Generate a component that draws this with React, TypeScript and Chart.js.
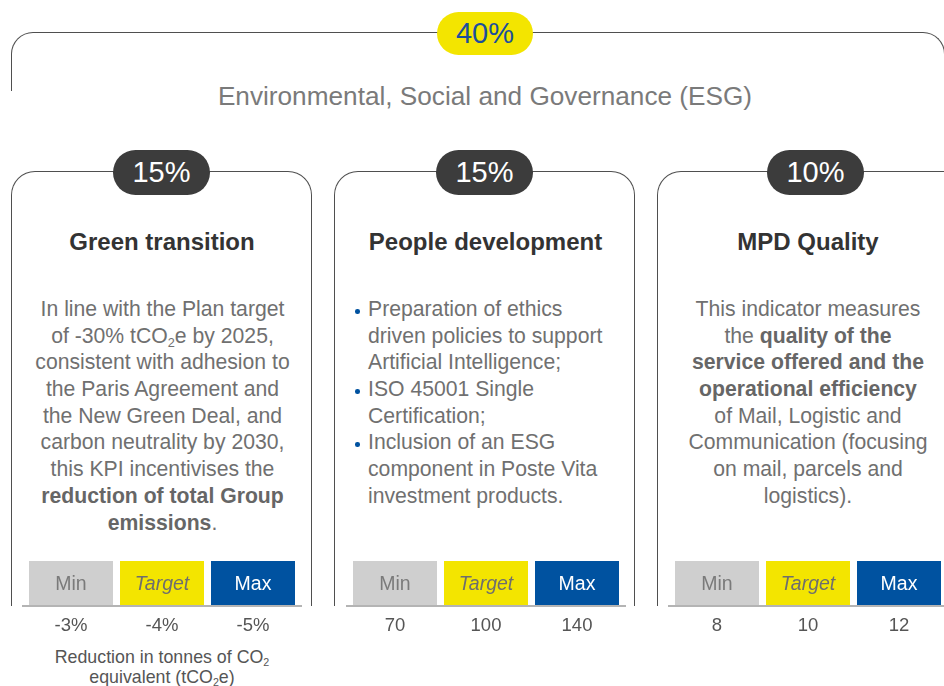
import React, { useEffect, useRef } from "react";
import { Chart, registerables } from "chart.js";

Chart.register(...registerables);

const FONT = '"Liberation Sans", Arial, Helvetica, sans-serif';

// ---- data ----
const GROUP_WEIGHT = "40%";
const GROUP_TITLE = "Environmental, Social and Governance (ESG)";
const KPI_WEIGHTS = ["15%", "15%", "10%"];
const KPI_TITLES = ["Green transition", "People development", "MPD Quality"];
const LEVEL_LABELS = ["Min", "Target", "Max"];
const LEVEL_HEIGHTS = [1, 1, 1];
const GREEN_VALUES = ["-3%", "-4%", "-5%"];
const PEOPLE_VALUES = ["70", "100", "140"];
const MPD_VALUES = ["8", "10", "12"];

const GREEN_TEXT = [
  "In line with the Plan target",
  "of -30% tCO~2~e by 2025,",
  "consistent with adhesion to",
  "the Paris Agreement and",
  "the New Green Deal, and",
  "carbon neutrality by 2030,",
  "this KPI incentivises the",
  "**reduction of total Group**",
  "**emissions**.",
];
const PEOPLE_BULLETS = [
  ["Preparation of ethics", "driven policies to support", "Artificial Intelligence;"],
  ["ISO 45001 Single", "Certification;"],
  ["Inclusion of an ESG", "component in Poste Vita", "investment products."],
];
const MPD_TEXT = [
  "This indicator measures",
  "the **quality of the**",
  "**service offered and the**",
  "**operational efficiency**",
  "of Mail, Logistic and",
  "Communication (focusing",
  "on mail, parcels and",
  "logistics).",
];
const GREEN_NOTE = ["Reduction in tonnes of CO~2~", "equivalent (tCO~2~e)"];

// ---- styles ----
const LEVEL_COLORS = ["#cfcfcf", "#f3e500", "#0052a0"];
const LEVEL_TEXT_COLORS = ["#7a7a7a", "#6e6e6e", "#ffffff"];
const LEVEL_FONT_STYLES = ["normal", "italic", "normal"];
const LINE_COLOR = "#4f4f4f";
const BODY_COLOR = "#707070";

function renderParts(line: string, subShift: string) {
  const parts = line.split(/(\*\*[^*]+\*\*|~[^~]+~)/g).filter((p) => p !== "");
  return parts.map((p, i) => {
    if (p.startsWith("**"))
      return (
        <span key={i} style={{ fontWeight: "bold", color: "#666" }}>
          {p.slice(2, -2)}
        </span>
      );
    if (p.startsWith("~"))
      return (
        <span key={i} style={{ fontSize: "0.6em", verticalAlign: subShift, lineHeight: 0 }}>
          {p.slice(1, -1)}
        </span>
      );
    return <span key={i}>{p}</span>;
  });
}

function renderLine(line: string, key: number) {
  return (
    <div key={key} style={{ height: 26.7, whiteSpace: "nowrap" }}>
      {renderParts(line, "-0.35em")}
    </div>
  );
}

const levelPlugin = {
  id: "levelCells",
  afterDatasetsDraw(chart: any) {
    const { ctx, chartArea } = chart;
    ctx.save();
    ctx.strokeStyle = "#b4b4b4";
    ctx.lineWidth = 2;
    ctx.beginPath();
    ctx.moveTo(0, chartArea.bottom);
    ctx.lineTo(chart.width, chartArea.bottom);
    ctx.stroke();
    const meta = chart.getDatasetMeta(0);
    meta.data.forEach((bar: any, i: number) => {
      const { x, y, base } = bar.getProps(["x", "y", "base"], true);
      ctx.font = `${LEVEL_FONT_STYLES[i]} 19.5px ${FONT}`;
      ctx.fillStyle = LEVEL_TEXT_COLORS[i];
      ctx.textAlign = "center";
      ctx.textBaseline = "middle";
      ctx.fillText(LEVEL_LABELS[i], x, (y + base) / 2 + 1);
    });
    ctx.restore();
  },
};

function LevelChart({ values, left }: { values: string[]; left: number }) {
  const ref = useRef<HTMLCanvasElement>(null);
  useEffect(() => {
    const chart = new Chart(ref.current as HTMLCanvasElement, {
      type: "bar",
      data: {
        labels: values,
        datasets: [
          {
            data: LEVEL_HEIGHTS,
            backgroundColor: LEVEL_COLORS,
            borderWidth: 0,
            barPercentage: 84 / 91,
            categoryPercentage: 1,
          },
        ],
      },
      options: {
        responsive: false,
        animation: false,
        devicePixelRatio: 1,
        layout: { padding: { left: 3.5, right: 3.5, top: 5, bottom: 0 } },
        plugins: { legend: { display: false }, tooltip: { enabled: false } },
        scales: {
          x: {
            grid: { display: false, drawTicks: false },
            border: { display: false },
            ticks: { color: "#555", font: { family: FONT, size: 18.5 }, padding: 9 },
            afterFit: (s: any) => {
              s.height = 30;
            },
          },
          y: { display: false, min: 0, max: 1 },
        },
      },
      plugins: [levelPlugin],
    } as any);
    return () => chart.destroy();
  }, [values]);
  return (
    <canvas
      ref={ref}
      width={280}
      height={80}
      style={{ position: "absolute", left, top: 556, width: 280, height: 80 }}
    />
  );
}

function Pill({ cx, top, w, h, bg, color, text }: any) {
  return (
    <div
      style={{
        position: "absolute",
        left: cx - w / 2,
        top,
        width: w,
        height: h,
        borderRadius: h / 2,
        background: bg,
        color,
        fontSize: 29,
        display: "flex",
        alignItems: "center",
        justifyContent: "center",
        lineHeight: 1,
      }}
    >
      {text}
    </div>
  );
}

function Panel({ left, width }: { left: number; width: number }) {
  return (
    <div
      style={{
        position: "absolute",
        left,
        top: 171.25,
        width,
        height: 606 - 171.25,
        boxSizing: "border-box",
        borderTop: `1.5px solid ${LINE_COLOR}`,
        borderLeft: `1.5px solid ${LINE_COLOR}`,
        borderRight: `1.5px solid ${LINE_COLOR}`,
        borderRadius: "24px 24px 0 0",
      }}
    />
  );
}

function Title({ cx, text }: { cx: number; text: string }) {
  return (
    <div
      style={{
        position: "absolute",
        left: cx - 150,
        width: 300,
        top: 226.5,
        lineHeight: "30px",
        textAlign: "center",
        fontWeight: "bold",
        fontSize: 24,
        color: "#333",
        whiteSpace: "nowrap",
      }}
    >
      {text}
    </div>
  );
}

export default function App() {
  return (
    <div
      style={{
        position: "absolute",
        left: 0,
        top: 0,
        width: 944,
        height: 686,
        overflow: "hidden",
        background: "#fff",
        fontFamily: FONT,
      }}
    >
      {/* group bracket */}
      <div
        style={{
          position: "absolute",
          left: 11.25,
          top: 32.25,
          width: 945 - 11.25,
          height: 91 - 32.25,
          boxSizing: "border-box",
          borderTop: `1.5px solid ${LINE_COLOR}`,
          borderLeft: `1.5px solid ${LINE_COLOR}`,
          borderRight: `1.5px solid ${LINE_COLOR}`,
          borderRadius: "22px 22px 0 0",
        }}
      />
      <Pill cx={485} top={12} w={96} h={43} bg="#f3e500" color="#1b4f9c" text={GROUP_WEIGHT} />
      <div
        style={{
          position: "absolute",
          left: 85,
          width: 800,
          top: 80.5,
          lineHeight: "30px",
          textAlign: "center",
          fontSize: 26.2,
          color: "#7a7a7a",
          whiteSpace: "nowrap",
        }}
      >
        {GROUP_TITLE}
      </div>

      {/* panels */}
      <Panel left={11.25} width={300.5} />
      <Panel left={334.25} width={300.5} />
      <Panel left={657.25} width={310} />
      <Pill cx={161.5} top={150} w={97} h={45} bg="#3c3c3c" color="#fff" text={KPI_WEIGHTS[0]} />
      <Pill cx={484.5} top={150} w={97} h={45} bg="#3c3c3c" color="#fff" text={KPI_WEIGHTS[1]} />
      <Pill cx={815.5} top={150} w={97} h={45} bg="#3c3c3c" color="#fff" text={KPI_WEIGHTS[2]} />
      <Title cx={162} text={KPI_TITLES[0]} />
      <Title cx={485.5} text={KPI_TITLES[1]} />
      <Title cx={808} text={KPI_TITLES[2]} />

      {/* panel 1 body */}
      <div
        style={{
          position: "absolute",
          left: 12.5,
          width: 300,
          top: 296,
          fontSize: 21.2,
          lineHeight: "26.7px",
          textAlign: "center",
          color: BODY_COLOR,
        }}
      >
        {GREEN_TEXT.map((l, i) => renderLine(l, i))}
      </div>

      {/* panel 2 body */}
      <div
        style={{
          position: "absolute",
          left: 368,
          width: 270,
          top: 296,
          fontSize: 21.2,
          lineHeight: "26.7px",
          textAlign: "left",
          color: BODY_COLOR,
        }}
      >
        {PEOPLE_BULLETS.map((item, k) =>
          item.map((l, i) => (
            <div key={`${k}-${i}`} style={{ position: "relative", height: 26.7, whiteSpace: "nowrap" }}>
              {i === 0 && (
                <span
                  style={{
                    position: "absolute",
                    left: -13,
                    top: 13,
                    width: 4.5,
                    height: 4.5,
                    borderRadius: "50%",
                    background: "#0052a0",
                  }}
                />
              )}
              {l}
            </div>
          ))
        )}
      </div>

      {/* panel 3 body */}
      <div
        style={{
          position: "absolute",
          left: 658,
          width: 300,
          top: 296,
          fontSize: 21.2,
          lineHeight: "26.7px",
          textAlign: "center",
          color: BODY_COLOR,
        }}
      >
        {MPD_TEXT.map((l, i) => renderLine(l, i))}
      </div>

      {/* level charts */}
      <LevelChart values={GREEN_VALUES} left={22} />
      <LevelChart values={PEOPLE_VALUES} left={345.5} />
      <LevelChart values={MPD_VALUES} left={667.5} />

      {/* footnote */}
      <div
        style={{
          position: "absolute",
          left: 12,
          width: 300,
          top: 646.5,
          fontSize: 17.8,
          lineHeight: "20px",
          textAlign: "center",
          color: "#555",
        }}
      >
        {GREEN_NOTE.map((l, i) => (
          <div key={i} style={{ height: 20, whiteSpace: "nowrap" }}>
            {renderParts(l, "-0.25em")}
          </div>
        ))}
      </div>
    </div>
  );
}
